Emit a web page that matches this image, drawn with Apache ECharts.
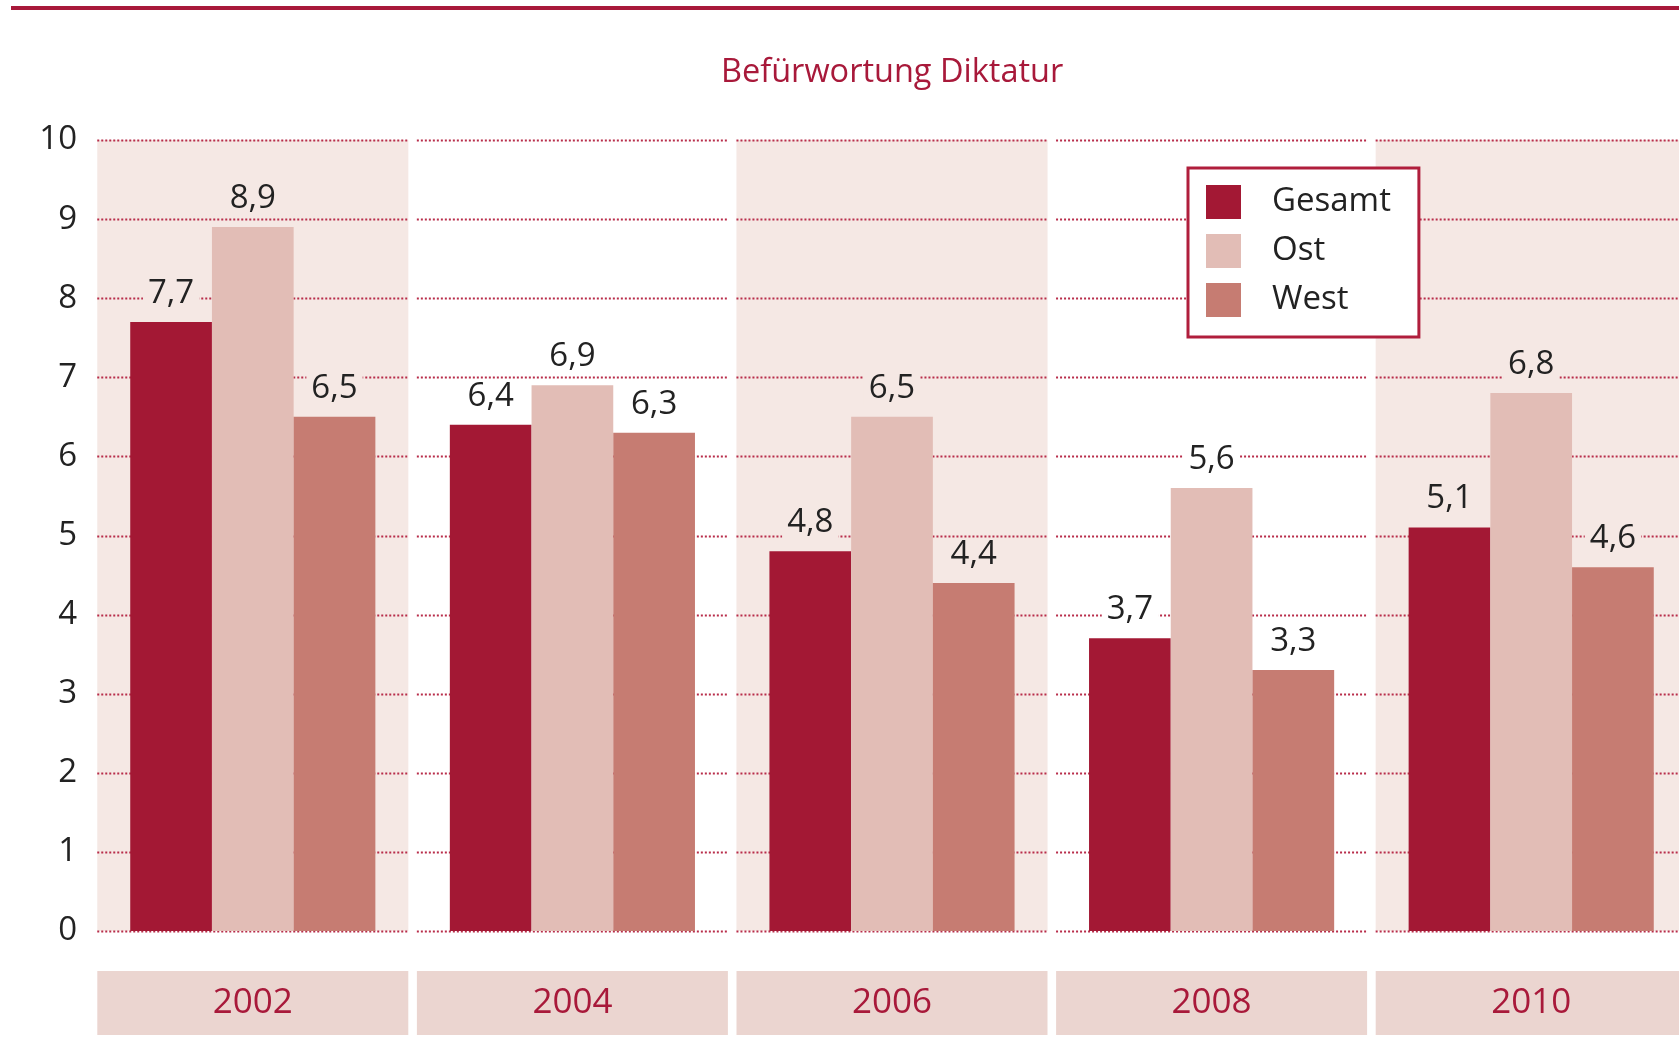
<!DOCTYPE html>
<html>
<head>
<meta charset="utf-8">
<script src="https://cdn.jsdelivr.net/npm/echarts@6/dist/echarts.min.js"></script>
<style>
  html, body { margin: 0; padding: 0; background: #fff; }
  #chart { width: 1679px; height: 1055px; }
</style>
</head>
<body>
<div id="chart"></div>
<script>
const years = ['2002', '2004', '2006', '2008', '2010']
const gesamt = [7.7, 6.4, 4.8, 3.7, 5.1]
const ost = [8.9, 6.9, 6.5, 5.6, 6.8]
const west = [6.5, 6.3, 4.4, 3.3, 4.6]
const yTicks = [0, 1, 2, 3, 4, 5, 6, 7, 8, 9, 10]

const FONT = '"Open Sans", "Noto Sans", sans-serif'
const RED = '#a8193a'
const bandColors = ['#f5e8e4', '#ffffff']

const chart = echarts.init(document.getElementById('chart'))

function barData(vals) {
  return vals.map((v, i) => ({ value: v, label: { backgroundColor: bandColors[i % 2] } }))
}

function barSeries(name, vals, color) {
  return {
    name, type: 'bar', data: barData(vals), z: 3,
    barGap: 0, barCategoryGap: '23.3%',
    itemStyle: { color },
    label: {
      show: true, position: 'top', distance: 12,
      color: '#222', fontFamily: FONT, fontSize: 33, padding: [0, 5],
      formatter: p => String(p.value).replace('.', ',')
    }
  }
}

// band backgrounds plus dotted gridlines, drawn per year so they break between bands
function renderBand(params, api) {
  const idx = api.value(0)
  const c = api.coord([idx, 0])
  const w = api.size([1, 0])[0] - 8.5
  const x0 = c[0] - w / 2
  const top = api.coord([idx, 10])[1]
  const children = [{
    type: 'rect',
    shape: { x: x0, y: top, width: w, height: c[1] - top },
    style: { fill: bandColors[idx % 2] }
  }]
  yTicks.forEach(t => {
    const y = Math.round(api.coord([idx, t])[1]) + 0.5
    children.push({
      type: 'line',
      shape: { x1: x0, y1: y, x2: x0 + w, y2: y },
      style: { stroke: '#b82d4a', lineWidth: 2, lineDash: [2, 2] }
    })
  })
  return { type: 'group', children }
}

chart.setOption({
  animation: false,
  backgroundColor: '#fff',
  graphic: [{
    type: 'rect', left: 11, top: 6,
    shape: { width: 1700, height: 4 },
    style: { fill: RED }
  }],
  title: {
    text: 'Befürwortung Diktatur', left: 716, top: 51,
    textStyle: { color: RED, fontFamily: FONT, fontSize: 32.5, fontWeight: 'normal' }
  },
  legend: {
    orient: 'vertical', left: 1188, top: 168,
    data: ['Gesamt', 'Ost', 'West'],
    icon: 'rect', itemWidth: 35, itemHeight: 34, itemGap: 15,
    padding: [17, 28, 20, 18],
    backgroundColor: '#fff', borderColor: '#b01e3c', borderWidth: 3,
    textStyle: { color: '#222', fontFamily: FONT, fontSize: 33, padding: [0, 0, 0, 26] }
  },
  grid: { left: 93, top: 140, width: 1598, height: 791, outerBoundsMode: 'none', containLabel: false },
  xAxis: {
    type: 'category', data: years,
    axisLine: { show: false }, axisTick: { show: false },
    axisLabel: {
      margin: 40, color: RED, fontFamily: FONT, fontSize: 35,
      backgroundColor: '#ebd5d0', width: 311, height: 64, lineHeight: 64,
      align: 'center', verticalAlign: 'top'
    }
  },
  yAxis: {
    type: 'value', min: 0, max: 10, interval: 1,
    axisLine: { show: false }, axisTick: { show: false },
    splitLine: { show: false },
    axisLabel: { margin: 16, color: '#222', fontFamily: FONT, fontSize: 33, padding: [6, 0, 0, 0] }
  },
  series: [
    {
      type: 'custom', name: 'bg', silent: true, z: 1,
      data: years.map(y => [y]),
      encode: { x: 0 },
      renderItem: renderBand
    },
    barSeries('Gesamt', gesamt, '#a31834'),
    barSeries('Ost', ost, '#e2bdb6'),
    barSeries('West', west, '#c67c72')
  ]
})
</script>
</body>
</html>
